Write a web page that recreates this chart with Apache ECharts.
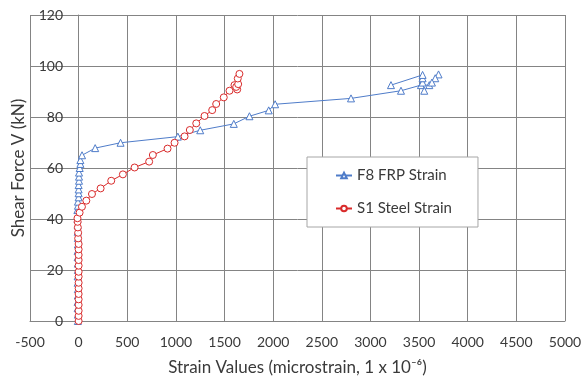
<!DOCTYPE html>
<html>
<head>
<meta charset="utf-8">
<script src="https://cdn.jsdelivr.net/npm/echarts@6/dist/echarts.min.js"></script>
<style>
  html, body { margin: 0; padding: 0; background: #fff; }
  #chart { width: 582px; height: 382px; }
</style>
</head>
<body>
<div id="chart"></div>
<script>
// [strain (microstrain), shear force (kN)]
const frpStrain = [
  [-8, 0], [-8, 2.5], [-10, 5], [-10, 7.5], [-8, 10], [-8, 12.5], [-10, 15],
  [-10, 17.5], [-8, 20], [-8, 22.5], [-10, 25], [-10, 27.5], [-8, 30],
  [-8, 32.5], [-10, 35], [-10, 37.5], [-12, 40], [-13, 43.5], [-7, 45.2],
  [-7, 46.8], [0, 48.5], [0, 50.1], [0, 51.6], [0, 53.3], [4, 55], [4, 56.6],
  [4, 58.2], [11, 60], [18, 61.6], [18, 63.1], [35, 65], [170, 67.8],
  [431, 69.9], [1020, 72.3], [1250, 74.8], [1595, 77.3], [1756, 80.3],
  [1954, 82.6], [2020, 85.0], [2800, 87.3], [3314, 90.3], [3519, 92.5],
  [3605, 92.5], [3700, 96.7], [3666, 95.2], [3632, 93.5], [3553, 90.3],
  [3536, 93.5], [3536, 95.2], [3536, 96.5], [3211, 92.5]
];
const steelStrain = [
  [0, 0], [0, 2], [0, 4], [0, 6.3], [0, 8.5], [0, 10.6], [0, 12.8], [0, 15],
  [0, 17.4], [0, 19.3], [0, 21.7], [0, 23.9], [0, 25.9], [0, 28.1], [0, 30.2],
  [-5, 32.4], [-5, 34.6], [-8, 36.7], [-10, 38.9], [-12, 40.3], [10, 42.5],
  [34, 44.8], [79, 47.2], [137, 49.8], [226, 52], [335, 55], [455, 57.5],
  [575, 60.2], [725, 62.5], [763, 65.1], [914, 67.6], [986, 69.9],
  [1089, 72.4], [1143, 74.9], [1209, 77.5], [1294, 80.4], [1373, 82.7],
  [1414, 85.1], [1492, 87.7], [1551, 90.3], [1602, 92.5], [1630, 90.8],
  [1620, 91.8], [1640, 92.9], [1636, 95.1], [1653, 96.9]
];
const seriesNames = ['F8 FRP Strain', 'S1 Steel Strain'];

const font = 'Lato, "Noto Sans", sans-serif';
const gridColor = '#848484';
const textColor = '#3a3a3a';

const chart = echarts.init(document.getElementById('chart'));
chart.setOption({
  animation: false,
  backgroundColor: '#fff',
  textStyle: { fontFamily: font },
  grid: { left: 30, right: 17, top: 15, bottom: 61, containLabel: false, outerBoundsMode: 'none' },
  legend: {
    orient: 'vertical',
    left: 307,
    top: 157,
    data: seriesNames,
    backgroundColor: '#fff',
    borderColor: '#a6a6a6',
    borderWidth: 1,
    padding: [10, 26, 10, 28],
    itemGap: 16,
    itemWidth: 16,
    itemHeight: 7,
    textStyle: { fontSize: 15, color: textColor, fontFamily: font, lineHeight: 17 }
  },
  xAxis: {
    type: 'value',
    min: -500,
    max: 5000,
    interval: 500,
    name: 'Strain Values (microstrain, 1 x 10⁻⁶)',
    nameLocation: 'middle',
    nameGap: 38,
    nameTextStyle: { fontSize: 17, color: textColor },
    axisLine: { lineStyle: { color: gridColor } },
    axisTick: { show: false },
    axisLabel: { fontSize: 14, color: textColor, margin: 14, formatter: v => String(v) },
    splitLine: { lineStyle: { color: gridColor, width: 1 } }
  },
  yAxis: {
    type: 'value',
    min: 0,
    max: 120,
    interval: 20,
    name: 'Shear Force V (kN)',
    nameLocation: 'middle',
    nameGap: 3,
    nameTextStyle: { fontSize: 17, color: textColor },
    axisLine: { show: true, lineStyle: { color: gridColor } },
    axisTick: { show: false },
    // labels sit right of the plot edge, next to the zero line, as in Excel
    axisLabel: { inside: true, align: 'right', margin: 33, fontSize: 14, color: textColor },
    splitLine: { lineStyle: { color: gridColor, width: 1 } }
  },
  series: [
    {
      name: seriesNames[0],
      type: 'line',
      data: frpStrain,
      symbol: 'triangle',
      symbolSize: 7,
      lineStyle: { color: '#4f7cc9', width: 1 },
      itemStyle: { color: '#fff', borderColor: '#4f7cc9', borderWidth: 1 }
    },
    {
      name: seriesNames[1],
      type: 'line',
      data: steelStrain,
      symbol: 'circle',
      symbolSize: 7,
      lineStyle: { color: '#d92b2b', width: 1 },
      itemStyle: { color: '#fff', borderColor: '#d92b2b', borderWidth: 1 }
    }
  ]
});
</script>
</body>
</html>
